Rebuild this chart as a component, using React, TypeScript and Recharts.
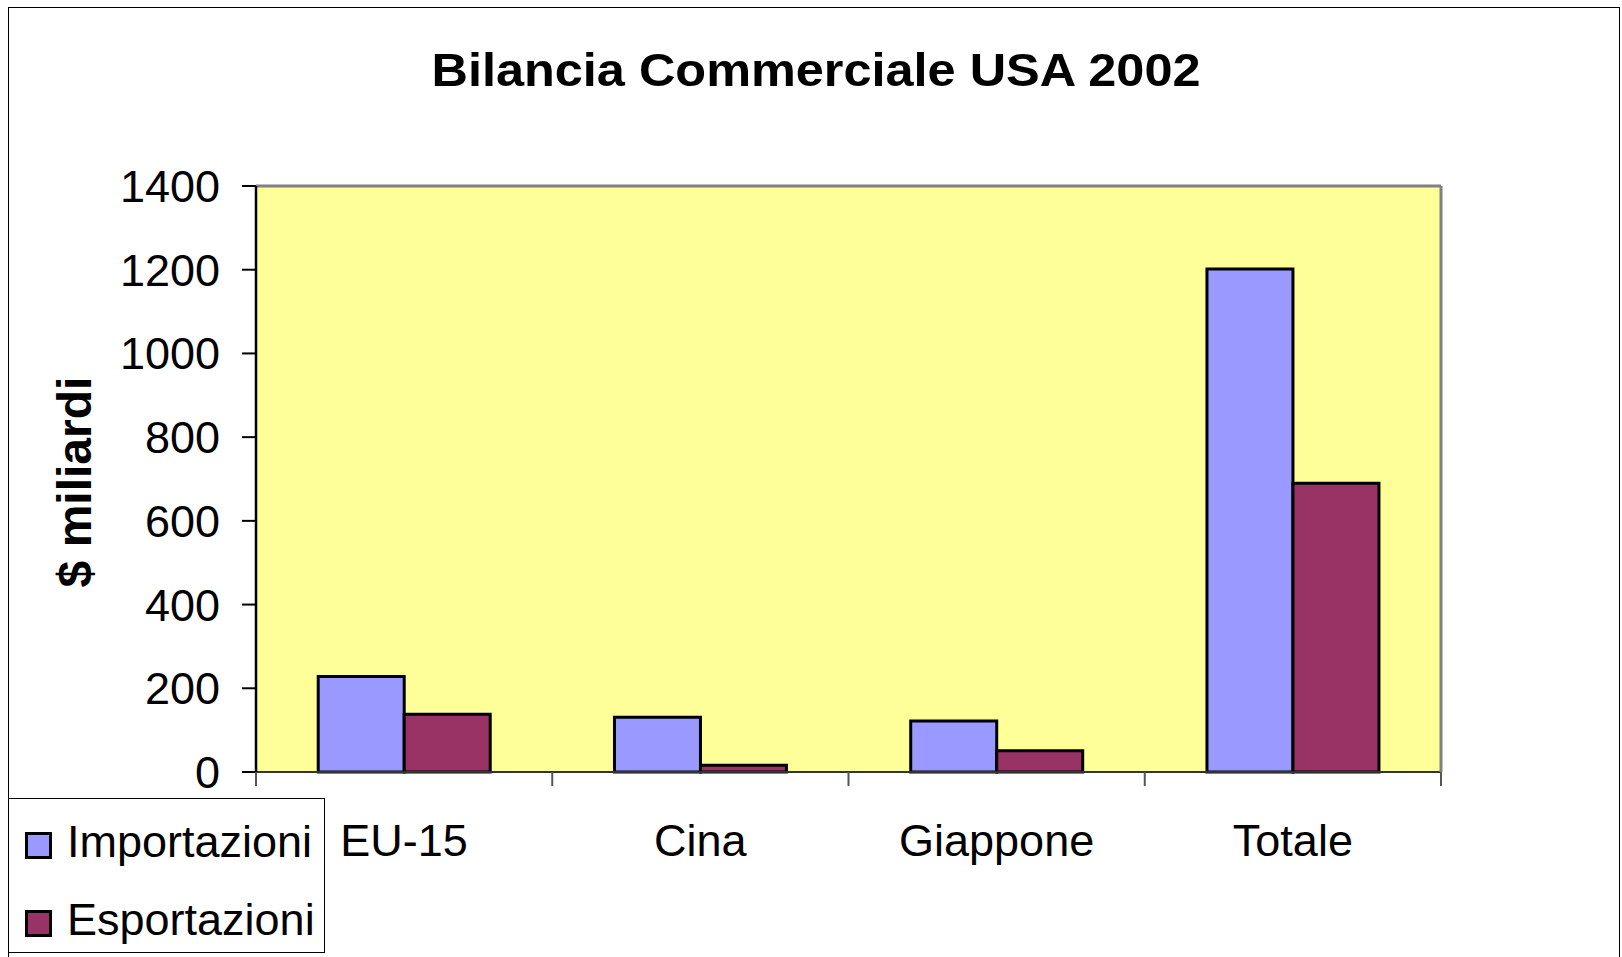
import React from "react";
import {
    BarChart,
    Bar,
    XAxis,
    YAxis,
    CartesianGrid,
    ReferenceLine,
    Legend,
    Label,
} from "recharts";

// values in $ billions
const categories = ["EU-15", "Cina", "Giappone", "Totale"];
const importazioni = [228, 131, 122, 1202];
const esportazioni = [138, 16, 51, 690];
const yTicks = [0, 200, 400, 600, 800, 1000, 1200, 1400];

const seriesNames = ["Importazioni", "Esportazioni"];
const seriesColors = ["#9999FF", "#993366"];

const data = categories.map((c, i) => ({
    name: c,
    imp: importazioni[i],
    exp: esportazioni[i],
}));

const FONT = "'Liberation Sans', Arial, sans-serif";
const W = 1611;
const H = 949;
const PLOT_LEFT = 248;
const PLOT_RIGHT = 1433;

const CategoryTick = (props: any) => {
    const { x, y, payload, index } = props;
    const half = payload.offset || (PLOT_RIGHT - PLOT_LEFT) / (categories.length * 2);
    return (
        <g>
            <line x1={x - half} x2={x - half} y1={y} y2={y + 14} stroke="#555" strokeWidth={2} />
            {index === categories.length - 1 && (
                <line x1={x + half} x2={x + half} y1={y} y2={y + 14} stroke="#555" strokeWidth={2} />
            )}
            <text x={x} y={y + 52} dy="0.71em" textAnchor="middle" fontSize={45} fill="#000" fontFamily={FONT}>
                {payload.value}
            </text>
        </g>
    );
};

const renderLegend = () => (
    <div
        style={{
            width: 317,
            height: 155,
            border: "1px solid #000",
            boxSizing: "border-box",
            background: "#fff",
            position: "relative",
            fontFamily: FONT,
        }}
    >
        {seriesNames.map((name, i) => (
            <div
                key={name}
                style={{
                    position: "absolute",
                    left: 16,
                    top: i === 0 ? 20 : 98,
                    height: 46,
                    display: "flex",
                    alignItems: "center",
                }}
            >
                <span
                    style={{
                        display: "inline-block",
                        width: 27,
                        height: 27,
                        boxSizing: "border-box",
                        border: "3px solid #000",
                        background: seriesColors[i],
                        marginRight: 15,
                        marginTop: 6,
                    }}
                />
                <span style={{ fontSize: 45, color: "#000", lineHeight: "46px" }}>{name}</span>
            </div>
        ))}
    </div>
);

const App = () => {
    return (
        // fixed so nothing overflows into scrollbars
        <div style={{ position: "fixed", left: 0, top: 0, width: 1622, height: 957, overflow: "hidden", background: "#fff" }}>
            <div style={{ position: "absolute", left: 8, top: 8, width: W, height: H, fontFamily: FONT }}>
                <div
                    style={{
                        position: "absolute",
                        left: 0,
                        top: -1,
                        width: W + 1,
                        height: H + 1,
                        border: "1px solid #000",
                        borderBottom: "none",
                        boxSizing: "border-box",
                        pointerEvents: "none",
                    }}
                />
                <svg style={{ position: "absolute", left: 0, top: 0 }} width={W} height={120}>
                    <text
                        x={808}
                        y={78}
                        textAnchor="middle"
                        textLength={769}
                        lengthAdjust="spacingAndGlyphs"
                        fontSize={46}
                        fontWeight="bold"
                        fontFamily={FONT}
                        fill="#000"
                    >
                        Bilancia Commerciale USA 2002
                    </text>
                </svg>

                <BarChart
                    width={W}
                    height={H}
                    data={data}
                    margin={{ top: 178, right: W - PLOT_RIGHT - 1, bottom: 0, left: 0 }}
                    barCategoryGap="21%"
                    barGap={0}
                >
                    <CartesianGrid horizontal vertical={false} stroke="#000" strokeWidth={1} fill="#FFFF99" fillOpacity={1} />
                    <XAxis
                        dataKey="name"
                        height={H - 764}
                        tickLine={false}
                        tickSize={0}
                        tickMargin={0}
                        axisLine={{ stroke: "#333", strokeWidth: 2 }}
                        tick={<CategoryTick />}
                        interval={0}
                    />
                    <YAxis
                        yAxisId="left"
                        width={PLOT_LEFT}
                        domain={[0, 1400]}
                        ticks={yTicks}
                        interval={0}
                        tickSize={14}
                        tickMargin={22}
                        tickLine={{ stroke: "#000", strokeWidth: 2 }}
                        axisLine={{ stroke: "#000", strokeWidth: 2.5 }}
                        tick={{ fontSize: 45, fill: "#000", fontFamily: FONT }}
                    >
                        <Label
                            content={() => (
                                <text
                                    transform="translate(66 474) rotate(-90)"
                                    textAnchor="middle"
                                    dominantBaseline="central"
                                    fontSize={48}
                                    fontWeight="bold"
                                    fontFamily={FONT}
                                    fill="#000"
                                >
                                    $ miliardi
                                </text>
                            )}
                        />
                    </YAxis>
                    <YAxis
                        yAxisId="right"
                        orientation="right"
                        width={1}
                        domain={[0, 1400]}
                        tick={false}
                        tickLine={false}
                        axisLine={{ stroke: "#808080", strokeWidth: 3 }}
                    />
                    <ReferenceLine yAxisId="left" y={1400} stroke="#808080" strokeWidth={3} />
                    <Legend
                        layout="horizontal"
                        verticalAlign="middle"
                        align="center"
                        content={renderLegend}
                        wrapperStyle={{ position: "absolute", left: 0, top: 790, width: 317, height: 155 }}
                    />
                    <Bar
                        yAxisId="left"
                        dataKey="imp"
                        name={seriesNames[0]}
                        fill={seriesColors[0]}
                        stroke="#000"
                        strokeWidth={3}
                        isAnimationActive={false}
                    />
                    <Bar
                        yAxisId="left"
                        dataKey="exp"
                        name={seriesNames[1]}
                        fill={seriesColors[1]}
                        stroke="#000"
                        strokeWidth={3}
                        isAnimationActive={false}
                    />
                </BarChart>
            </div>
        </div>
    );
};

export default App;
